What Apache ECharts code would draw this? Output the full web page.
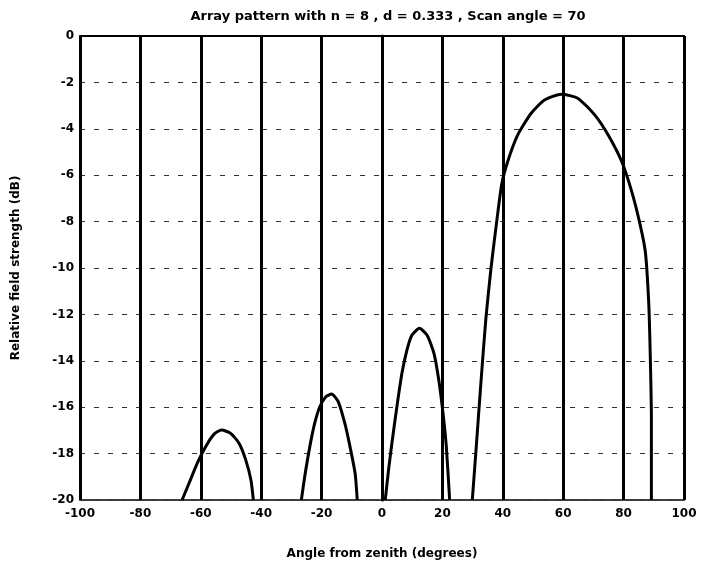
<!DOCTYPE html>
<html>
<head>
<meta charset="utf-8">
<script src="https://cdn.jsdelivr.net/npm/echarts@6/dist/echarts.min.js"></script>
<style>html,body{margin:0;padding:0;background:#fff}#c{width:704px;height:567px}</style>
</head>
<body>
<div id="c"></div>
<script>
const titleText = "Array pattern with n = 8 , d = 0.333 , Scan angle = 70";
const xLabel = "Angle from zenith (degrees)";
const yLabel = "Relative field strength (dB)";
const xTicks = [-100, -80, -60, -40, -20, 0, 20, 40, 60, 80, 100];
const yTicks = [0, -2, -4, -6, -8, -10, -12, -14, -16, -18, -20];

const lobe1 = [[-66.2,-20],[-63.9,-19.28],[-61.2,-18.42],[-58.4,-17.7],[-55.6,-17.16],[-53.1,-16.98],[-50.1,-17.13],[-47.3,-17.56],[-45.1,-18.28],[-43.4,-19.14],[-42.6,-20]];
const lobe2 = [[-26.7,-20],[-25.6,-19.0],[-23.9,-17.7],[-22.3,-16.7],[-20.6,-15.98],[-18.6,-15.55],[-16.7,-15.43],[-14.5,-15.76],[-12.3,-16.7],[-10.6,-17.7],[-8.9,-18.85],[-8.2,-20]];
const lobe3 = [[1.07,-20],[2.17,-18.7],[3.27,-17.56],[4.93,-15.98],[6.6,-14.54],[8.27,-13.53],[9.93,-12.89],[12.4,-12.6],[14.9,-12.89],[17.2,-13.68],[18.8,-14.83],[20.2,-16.26],[21.3,-17.7],[22.4,-20]];
const lobe4 = [[29.9,-20],[31.1,-17.9],[32.7,-15.04],[34.4,-12.17],[36.1,-10.0],[37.7,-8.29],[39.6,-6.42],[41.6,-5.42],[44.9,-4.27],[49.4,-3.33],[53.8,-2.76],[59.4,-2.51],[64.9,-2.69],[70.5,-3.41],[74.9,-4.27],[79.4,-5.42],[82.7,-6.71],[85.5,-8.15],[87.2,-9.3],[88.3,-11.45],[88.8,-13.6],[89.2,-16.5],[89.2,-20]];

const font = "DejaVu Sans";
const chart = echarts.init(document.getElementById('c'), null, {renderer: 'canvas'});
const lineSeries = (d) => ({
  type: 'line', data: d, smooth: 0.2, showSymbol: false,
  lineStyle: {color: '#000', width: 3}, clip: true, z: 5
});
chart.setOption({
  animation: false,
  backgroundColor: '#fff',
  title: {
    text: titleText, left: 383, top: 5, textAlign: 'center',
    textStyle: {fontFamily: font, fontWeight: 'bold', fontSize: 13, color: '#000'}
  },
  grid: {left: 80, right: 20, top: 36, bottom: 67, show: true, borderColor: '#000', borderWidth: 1.5},
  xAxis: {
    type: 'value', min: xTicks[0], max: xTicks[xTicks.length-1], interval: 20,
    name: xLabel, nameLocation: 'middle', nameGap: 48,
    nameTextStyle: {fontFamily: font, fontWeight: 'bold', fontSize: 12, color: '#000'},
    axisLine: {show: true, lineStyle: {color: '#000', width: 2}},
    axisTick: {show: false},
    axisLabel: {fontFamily: font, fontWeight: 'bold', fontSize: 12, color: '#000', margin: 8,
      formatter: v => xTicks.includes(v) ? String(v) : ''},
    splitLine: {show: true, lineStyle: {color: '#000', width: 3}}
  },
  yAxis: {
    type: 'value', min: yTicks[yTicks.length-1], max: yTicks[0], interval: 2,
    name: yLabel, nameLocation: 'middle', nameGap: 58, nameRotate: 90,
    nameTextStyle: {fontFamily: font, fontWeight: 'bold', fontSize: 12, color: '#000'},
    axisLine: {show: true, lineStyle: {color: '#000', width: 3}},
    axisTick: {show: false},
    axisLabel: {fontFamily: font, fontWeight: 'bold', fontSize: 12, color: '#000', margin: 6,
      formatter: v => yTicks.includes(v) ? String(v) : ''},
    splitLine: {show: true, lineStyle: {color: '#333', width: 1, type: [5, 9]}}
  },
  series: [lineSeries(lobe1), lineSeries(lobe2), lineSeries(lobe3), lineSeries(lobe4)]
});
</script>
</body>
</html>
